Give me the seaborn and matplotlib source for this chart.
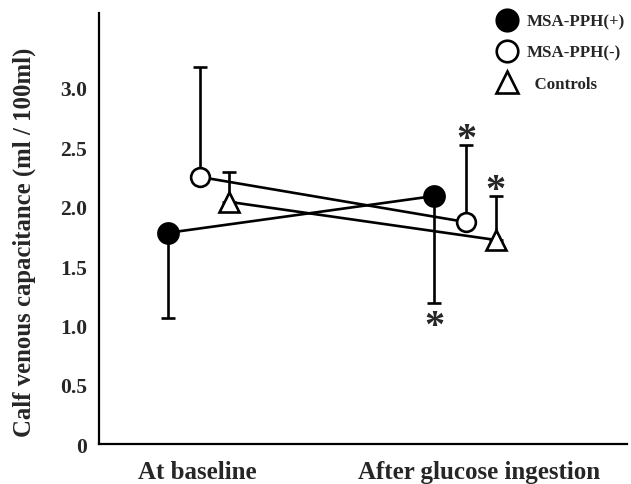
import numpy as np
import pandas as pd
import matplotlib
matplotlib.use("Agg")
import matplotlib.pyplot as plt
from matplotlib.lines import Line2D
import seaborn as sns

# values
conditions = ["At baseline", "After glucose ingestion"]
groups = ["MSA-PPH(+)", "MSA-PPH(-)", "Controls"]
pph_pos_mean = [1.78, 2.09]
pph_pos_sd = [0.72, 0.90]
pph_neg_mean = [2.25, 1.87]
pph_neg_sd = [0.93, 0.65]
ctrl_mean = [2.04, 1.72]
ctrl_sd = [0.25, 0.37]
significant = [False, True]   # * after glucose ingestion for every group

means = {"MSA-PPH(+)": pph_pos_mean, "MSA-PPH(-)": pph_neg_mean, "Controls": ctrl_mean}
sds = {"MSA-PPH(+)": pph_pos_sd, "MSA-PPH(-)": pph_neg_sd, "Controls": ctrl_sd}

# layout / style
offsets = {"MSA-PPH(+)": -0.12, "MSA-PPH(-)": 0.0, "Controls": 0.11}
err_dir = {"MSA-PPH(+)": -1, "MSA-PPH(-)": 1, "Controls": 1}
markers = {"MSA-PPH(+)": "o", "MSA-PPH(-)": "o", "Controls": "^"}
faces = {"MSA-PPH(+)": "black", "MSA-PPH(-)": "white", "Controls": "white"}
msize = {"MSA-PPH(+)": 14.5, "MSA-PPH(-)": 13.5, "Controls": 14}
legend_labels = ["MSA-PPH(+)", "MSA-PPH(-)", "  Controls"]
LW = 1.9

rows = []
for g in groups:
    for i, c in enumerate(conditions):
        rows.append({"group": g, "x": i + offsets[g], "value": means[g][i], "sd": sds[g][i]})
df = pd.DataFrame(rows)

sns.set_style("white")
plt.rcParams["font.family"] = ["Liberation Serif", "DejaVu Serif"]
plt.rcParams["font.weight"] = "bold"

fig = plt.figure(figsize=(6.31, 4.85), dpi=100)
ax = fig.add_axes([0.157, 0.082, 0.837, 0.889])

sns.lineplot(data=df, x="x", y="value", hue="group", palette=["black"] * 3,
             linewidth=LW, legend=False, ax=ax, zorder=2, sort=False)

for g in groups:
    sub = df[df.group == g]
    d = err_dir[g]
    lower = sub.sd.values if d < 0 else np.zeros(len(sub))
    upper = sub.sd.values if d > 0 else np.zeros(len(sub))
    ax.errorbar(sub.x, sub.value, yerr=[lower, upper], fmt="none", ecolor="black",
                elinewidth=LW, capsize=5, capthick=LW, zorder=1)
    ax.plot(sub.x, sub.value, linestyle="none", marker=markers[g], markersize=msize[g],
            markerfacecolor=faces[g], markeredgecolor="black", markeredgewidth=LW, zorder=3)
    for (_, r), sig in zip(sub.iterrows(), significant):
        if sig:
            yv = r.value + d * r.sd
            ax.annotate("*", (r.x, yv), xytext=(0, 4 if d > 0 else -17),
                        textcoords="offset points", ha="center",
                        va="center", fontsize=29, fontweight="bold")

ax.set_xlim(-0.38, 1.605)
ax.set_ylim(0, 3.63)
ax.set_yticks([0, 0.5, 1.0, 1.5, 2.0, 2.5, 3.0])
ax.set_yticklabels(["0", "0.5", "1.0", "1.5", "2.0", "2.5", "3.0"])
ax.set_xticks([-0.01, 1.05])
ax.set_xticklabels(conditions, fontsize=18)
ax.tick_params(axis="both", length=0)
ax.tick_params(axis="y", labelsize=15.5, pad=8.5)
ax.tick_params(axis="x", pad=11)
ax.set_xlabel("")
ax.set_ylabel("Calf venous capacitance (ml / 100ml)", fontsize=17.8, fontweight="bold")
ax.yaxis.set_label_coords(-0.119, 0.471)
sns.despine(ax=ax)
for s in ["left", "bottom"]:
    ax.spines[s].set_linewidth(1.6)
    ax.spines[s].set_color("black")

handles = [Line2D([], [], linestyle="none", marker=markers[g], markersize=15.5,
                  markerfacecolor=faces[g], markeredgecolor="black", markeredgewidth=LW)
           for g in groups]
fig.legend(handles, legend_labels, loc="upper left", bbox_to_anchor=(0.776, 0.987),
           bbox_transform=fig.transFigure, frameon=False, borderpad=0,
           prop={"family": "Liberation Serif", "weight": "bold", "size": 12.2},
           handlelength=1.0, handletextpad=0.67, labelspacing=0.88)

fig.savefig("out.png", dpi=100)
